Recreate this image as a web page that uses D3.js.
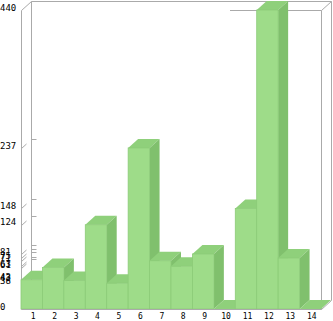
<!DOCTYPE html>
<html>
<head>
<meta charset="utf-8">
<script src="https://cdn.jsdelivr.net/npm/d3@7"></script>
<style>
  body { margin: 0; background: #fff; }
  text { font-family: "DejaVu Sans Mono", monospace; font-size: 9px; fill: #000; }
  .xlab text { font-size: 8px; }
</style>
</head>
<body>
<script>
// bar categories and values
const categories = ['1', '2', '3', '4', '5', '6', '7', '8', '9', '10', '11', '12', '13', '14'];
const values = [43, 61, 42, 124, 38, 237, 71, 63, 81, 0, 148, 440, 75, 0];
// the y axis labels every distinct value
const tickValues = [0, 38, 42, 43, 61, 63, 71, 75, 81, 124, 148, 237, 440];
const yMax = 440;

const width = 333;
const height = 321;
const margin = ({top: 10, right: 12, bottom: 12, left: 21});
// offset of the back wall from the front plane
const depth = ({x: 10, y: -9});

const frameColor = '#aaaaaa';
const frontColor = '#9edc89';
const topColor = '#8fd07b';
const sideColor = '#80c06d';
const edgeColor = '#8ccb78';

const xScale = d3.scaleBand()
                 .domain(categories)
                 .range([margin.left, width - margin.right]);

const yScale = d3.scaleLinear()
                 .domain([0, yMax])
                 .range([height - margin.bottom, margin.top]);

const svg = d3.select('body')
              .append('svg')
              .attr('width', width)
              .attr('height', height);

const x0 = margin.left + 0.5;
const x1 = width - margin.right + 0.5;
const yTop = yScale(yMax) + 0.5;
const yBot = yScale(0) + 0.5;

// back wall and box edges
const frame = svg.append('g')
                 .attr('stroke', frameColor)
                 .attr('fill', 'none');
const lines = [
  [x0 + depth.x, yTop + depth.y, x1 + depth.x, yTop + depth.y],
  [x0 + depth.x, yTop + depth.y, x0 + depth.x, yBot + depth.y],
  [x1 + depth.x, yTop + depth.y, x1 + depth.x, yBot + depth.y],
  [x0, yTop, x0 + depth.x, yTop + depth.y],
  [x1, yTop, x1 + depth.x, yTop + depth.y],
  [x1, yBot, x1 + depth.x, yBot + depth.y],
  [x0, yTop, x0, yBot],
  [x1, yTop, x1, yBot],
  [230, yTop, x1, yTop]
];
frame.selectAll('line')
     .data(lines)
     .join('line')
     .attr('x1', d => d[0]).attr('y1', d => d[1])
     .attr('x2', d => d[2]).attr('y2', d => d[3]);

// tick marks: short diagonal at the front axis, short dash on the back wall
frame.append('g')
     .selectAll('line')
     .data(tickValues.filter(d => d > 0 && d < yMax))
     .join('line')
     .attr('x1', x0).attr('y1', d => Math.round(yScale(d)) + 0.5)
     .attr('x2', x0 + 5).attr('y2', d => Math.round(yScale(d)) + 0.5 - 4.5);
frame.append('g')
     .selectAll('line')
     .data(tickValues.filter(d => d > 0 && d < yMax))
     .join('line')
     .attr('x1', x0 + depth.x).attr('y1', d => Math.round(yScale(d) + depth.y) + 0.5)
     .attr('x2', x0 + depth.x + 5).attr('y2', d => Math.round(yScale(d) + depth.y) + 0.5);

// BARS, left to right so each bar hides the side of the one before
const bars = svg.append('g')
                .selectAll('g')
                .data(values.map((v, i) => ({name: categories[i], value: v})))
                .join('g');

const bw = xScale.bandwidth();

// top face
bars.append('path')
    .attr('fill', topColor)
    .attr('d', d => {
      const x = xScale(d.name), y = yScale(d.value);
      return `M${x},${y}L${x + bw},${y}L${x + bw + depth.x},${y + depth.y}L${x + depth.x},${y + depth.y}Z`;
    });

// right side face
bars.append('path')
    .attr('fill', sideColor)
    .attr('d', d => {
      const x = xScale(d.name) + bw, y = yScale(d.value), b = yScale(0);
      return `M${x},${y}L${x + depth.x},${y + depth.y}L${x + depth.x},${b + depth.y}L${x},${b}Z`;
    });

// front face
bars.append('rect')
    .attr('x', d => xScale(d.name))
    .attr('y', d => yScale(d.value))
    .attr('width', bw)
    .attr('height', d => yScale(0) - yScale(d.value))
    .attr('fill', frontColor)
    .attr('stroke', edgeColor)
    .attr('stroke-width', 0.8);

// front bottom edge
svg.append('line')
   .attr('x1', x0).attr('y1', yBot)
   .attr('x2', x1).attr('y2', yBot)
   .attr('stroke', frameColor);

// AXES

// Y labels, left aligned at the edge
const yAxis = d3.axisRight(yScale)
                .tickValues(tickValues)
                .tickFormat(d3.format('d'))
                .tickSize(0)
                .tickPadding(0);
svg.append('g')
   .attr('transform', 'translate(0,-3)')
   .call(yAxis)
   .call(g => g.select('.domain').remove())
   .selectAll('text')
   .attr('dy', '0.35em');

// X labels
const xAxis = d3.axisBottom(xScale).tickSize(0).tickPadding(0);
svg.append('g')
   .attr('class', 'xlab')
   .attr('transform', `translate(1.5,${height - 5})`)
   .call(xAxis)
   .call(g => g.select('.domain').remove())
   .selectAll('text')
   .attr('y', 0)
   .attr('dy', '0.35em');

svg.selectAll('.tick text').attr('font-family', null).attr('font-size', null);
</script>
</body>
</html>
